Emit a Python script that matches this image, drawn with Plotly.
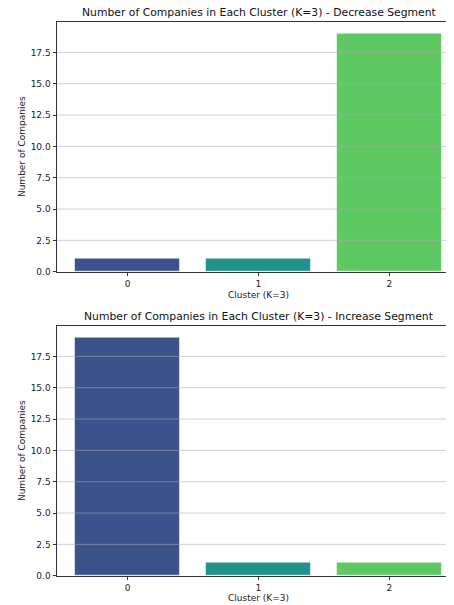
import plotly.graph_objects as go
from plotly.subplots import make_subplots

clusters = ["0", "1", "2"]
decrease_counts = [1, 1, 19]
increase_counts = [19, 1, 1]
colors = ["#3b528b", "#21918c", "#5ec962"]
ytick_vals = [0, 2.5, 5, 7.5, 10, 12.5, 15, 17.5]
ytick_text = ["0.0", "2.5", "5.0", "7.5", "10.0", "12.5", "15.0", "17.5"]
titles = ["Number of Companies in Each Cluster (K=3) - Decrease Segment",
          "Number of Companies in Each Cluster (K=3) - Increase Segment"]
x_label = "Cluster (K=3)"
y_label = "Number of Companies"

OFF = 8  # default body margin of the html page
W, H = 454 - OFF, 605 - OFF
FONT = "DejaVu Sans"
fig = make_subplots(rows=2, cols=1)

xi = [0, 1, 2]
for r, vals in ((1, decrease_counts), (2, increase_counts)):
    fig.add_trace(go.Bar(x=xi, y=vals, width=0.8, marker_color=colors,
                         marker_line=dict(color="rgba(255,255,255,0.55)", width=1),
                         showlegend=False), row=r, col=1)

def py(v):
    return 1 - (v - OFF) / H

L = 57.3 - OFF
top_dom = [py(271.7), py(21.7)]
bot_dom = [py(575.7), py(325.7)]
axis_common = dict(showline=True, linecolor="#333333", linewidth=1,
                   ticks="outside", ticklen=3.5, tickcolor="#333333",
                   tickfont=dict(family=FONT, size=9, color="#222222"),
                   zeroline=False, automargin=False)
for i, dom in ((1, top_dom), (2, bot_dom)):
    xa = "xaxis" if i == 1 else "xaxis2"
    ya = "yaxis" if i == 1 else "yaxis2"
    fig.layout[xa].update(range=[-0.539, 2.494], domain=[0, 1], tickmode="array",
                          tickvals=xi, ticktext=clusters, showgrid=False,
                          mirror=True, **axis_common)
    fig.layout[ya].update(range=[0, 19.95], domain=dom, tickmode="array",
                          tickvals=ytick_vals, ticktext=ytick_text, showgrid=False,
                          **axis_common)

shapes = []
for i in (1, 2):
    xref = "x domain" if i == 1 else "x2 domain"
    yref = "y" if i == 1 else "y2"
    for v in ytick_vals[1:]:
        shapes.append(dict(type="line", xref=xref, yref=yref, x0=0, x1=1, y0=v, y1=v,
                           line=dict(color="rgba(170,170,170,0.55)", width=1), layer="above"))

ann = []
title_y = [12.7, 316.7]
xlab_y = [294.7, 598.3]
ylab_y = [(21.7 + 271.7) / 2, (325.7 + 575.7) / 2]
pw = W - L
cx = ((57.3 + 460) / 2 - 57.3) / pw
for k in range(2):
    ann.append(dict(text=titles[k], xref="x domain", yref="paper", x=cx, y=py(title_y[k]),
                    xanchor="center", yanchor="middle", showarrow=False,
                    font=dict(family=FONT, size=10.8, color="#111111")))
    ann.append(dict(text=x_label, xref="x domain", yref="paper", x=cx, y=py(xlab_y[k]),
                    xanchor="center", yanchor="middle", showarrow=False,
                    font=dict(family=FONT, size=9, color="#222222")))
    ann.append(dict(text=y_label, xref="x domain", yref="paper", x=(21.7 - 57.3) / pw,
                    y=py(ylab_y[k]), xanchor="center", yanchor="middle",
                    textangle=-90, showarrow=False,
                    font=dict(family=FONT, size=9, color="#222222")))

fig.update_layout(width=W, height=H, margin=dict(l=L, r=0, t=0, b=0),
                  plot_bgcolor="white", paper_bgcolor="white",
                  shapes=shapes, annotations=ann, bargap=0)
fig.write_html("out.html")
